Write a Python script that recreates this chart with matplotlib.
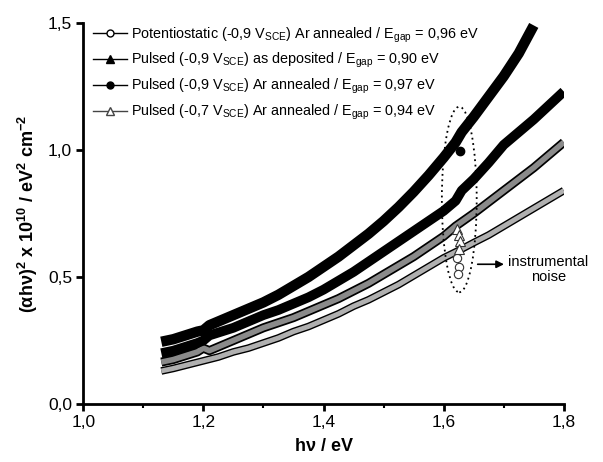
import numpy as np
import matplotlib
matplotlib.use('Agg')
import matplotlib.pyplot as plt
from matplotlib.patches import Ellipse
from matplotlib.lines import Line2D

plt.rcParams['font.family'] = ['Liberation Sans', 'DejaVu Sans']
plt.rcParams['mathtext.fontset'] = 'custom'
plt.rcParams['mathtext.rm'] = 'Liberation Sans'
plt.rcParams['mathtext.bf'] = 'Liberation Sans:bold'

# dados (hv em eV, (alpha hv)^2 em 1e10 eV^2 cm^-2)
x_pa = [1.13, 1.15, 1.17, 1.19, 1.20, 1.21, 1.23, 1.25, 1.275, 1.30, 1.325, 1.35, 1.375, 1.40, 1.425,
        1.45, 1.475, 1.50, 1.525, 1.55, 1.575, 1.60, 1.62, 1.63, 1.65, 1.675, 1.70, 1.725, 1.75]
y_pa = [0.245, 0.255, 0.27, 0.285, 0.29, 0.31, 0.33, 0.35, 0.375, 0.40, 0.43, 0.465, 0.50, 0.54, 0.58,
        0.625, 0.67, 0.72, 0.775, 0.835, 0.90, 0.97, 1.03, 1.07, 1.13, 1.21, 1.29, 1.38, 1.49]

x_pd = [1.13, 1.15, 1.17, 1.19, 1.20, 1.21, 1.23, 1.25, 1.275, 1.30, 1.325, 1.35, 1.375, 1.40, 1.425,
        1.45, 1.475, 1.50, 1.525, 1.55, 1.575, 1.60, 1.62, 1.63, 1.65, 1.675, 1.70, 1.725, 1.75, 1.775, 1.80]
y_pd = [0.20, 0.21, 0.225, 0.24, 0.25, 0.27, 0.285, 0.30, 0.325, 0.35, 0.37, 0.395, 0.42, 0.45, 0.485,
        0.52, 0.56, 0.60, 0.64, 0.68, 0.72, 0.76, 0.80, 0.84, 0.885, 0.95, 1.02, 1.07, 1.12, 1.175, 1.23]

x_p7 = [1.13, 1.15, 1.17, 1.19, 1.20, 1.21, 1.23, 1.25, 1.275, 1.30, 1.325, 1.35, 1.375, 1.40, 1.425,
        1.45, 1.475, 1.50, 1.525, 1.55, 1.575, 1.60, 1.62, 1.65, 1.675, 1.70, 1.725, 1.75, 1.775, 1.80]
y_p7 = [0.165, 0.175, 0.19, 0.205, 0.22, 0.21, 0.23, 0.25, 0.275, 0.30, 0.32, 0.34, 0.365, 0.39, 0.415,
        0.445, 0.475, 0.51, 0.545, 0.58, 0.62, 0.66, 0.70, 0.75, 0.795, 0.84, 0.885, 0.93, 0.98, 1.03]

x_pot = [1.13, 1.15, 1.175, 1.20, 1.225, 1.25, 1.275, 1.30, 1.325, 1.35, 1.375, 1.40, 1.425, 1.45,
         1.475, 1.50, 1.525, 1.55, 1.575, 1.60, 1.63, 1.65, 1.675, 1.70, 1.725, 1.75, 1.775, 1.80]
y_pot = [0.13, 0.14, 0.155, 0.17, 0.185, 0.205, 0.22, 0.24, 0.26, 0.285, 0.305, 0.33, 0.355, 0.385,
         0.41, 0.44, 0.47, 0.505, 0.54, 0.575, 0.61, 0.635, 0.665, 0.70, 0.735, 0.77, 0.805, 0.84]

# pontos de ruido instrumental
noise_pot_x = [1.622, 1.625, 1.624]
noise_pot_y = [0.575, 0.54, 0.51]
noise_p7_x = [1.622, 1.625, 1.628, 1.625]
noise_p7_y = [0.69, 0.665, 0.64, 0.61]
noise_pa_x = [1.627]
noise_pa_y = [0.996]

labels = [r'Potentiostatic (-0,9 V$_\mathrm{SCE}$) Ar annealed / E$_\mathrm{gap}$ = 0,96 eV',
          r'Pulsed (-0,9 V$_\mathrm{SCE}$) as deposited / E$_\mathrm{gap}$ = 0,90 eV',
          r'Pulsed (-0,9 V$_\mathrm{SCE}$) Ar annealed / E$_\mathrm{gap}$ = 0,97 eV',
          r'Pulsed (-0,7 V$_\mathrm{SCE}$) Ar annealed / E$_\mathrm{gap}$ = 0,94 eV']

xticks = [1.0, 1.2, 1.4, 1.6, 1.8]
xticklabels = ['1,0', '1,2', '1,4', '1,6', '1,8']
yticks = [0.0, 0.5, 1.0, 1.5]
yticklabels = ['0,0', '0,5', '1,0', '1,5']

fig = plt.figure(figsize=(6.03, 4.62), dpi=100)
ax = fig.add_axes([0.138, 0.1255, 0.797, 0.825])

# curvas (faixas grossas como na figura original)
kw = dict(solid_capstyle='butt', solid_joinstyle='round')
ax.plot(x_pot, y_pot, color='black', lw=5.5, zorder=2, **kw)
ax.plot(x_pot, y_pot, color='#b0b0b0', lw=3.5, zorder=2, **kw)
ax.plot(x_p7, y_p7, color='black', lw=6.5, zorder=3, **kw)
ax.plot(x_p7, y_p7, color='#8a8a8a', lw=4.0, zorder=3, **kw)
ax.plot(x_pd, y_pd, color='black', lw=7, zorder=4, **kw)
ax.plot(x_pa, y_pa, color='black', lw=7.5, zorder=5, **kw)

ax.plot(noise_pot_x, noise_pot_y, 'o', ms=6, mfc='white', mec='#333333', mew=0.8, zorder=6)
ax.plot(noise_p7_x, noise_p7_y, '^', ms=7, mfc='white', mec='#333333', mew=0.8, zorder=6)
ax.plot(noise_pa_x, noise_pa_y, 'o', ms=6, color='black', zorder=6)

ell = Ellipse((1.626, 0.805), 0.058, 0.73, fill=False, ls=(0, (1, 2)), lw=1.3, color='black', zorder=7)
ax.add_patch(ell)

ax.annotate('', xy=(1.705, 0.55), xytext=(1.652, 0.55),
            arrowprops=dict(arrowstyle='-|>', color='black', lw=1.2, mutation_scale=11))
ax.text(1.774, 0.53, 'instrumental\nnoise', ha='center', va='center', fontsize=10.5,
        linespacing=1.1)

# legenda
handles = [Line2D([], [], color='black', lw=1, marker='o', ms=5, mfc='white', mec='black'),
           Line2D([], [], color='black', lw=1, marker='^', ms=6, mfc='black', mec='black'),
           Line2D([], [], color='black', lw=1, marker='o', ms=5, mfc='black', mec='black'),
           Line2D([], [], color='#444444', lw=1, marker='^', ms=6, mfc='white', mec='#444444')]
leg = ax.legend(handles, labels, loc='upper left', bbox_to_anchor=(0.0, 1.02), frameon=False,
                fontsize=10.4, handlelength=2.3, handletextpad=0.3, labelspacing=0.45,
                borderaxespad=0.3)

ax.set_xlim(1.0, 1.8)
ax.set_ylim(0.0, 1.5)
ax.set_xticks(xticks)
ax.set_xticklabels(xticklabels)
ax.set_xticks([1.1, 1.3, 1.5, 1.7], minor=True)
ax.set_yticks(yticks)
ax.set_yticklabels(yticklabels)

for s in ['top', 'right']:
    ax.spines[s].set_visible(False)
for s in ['left', 'bottom']:
    ax.spines[s].set_linewidth(2)
ax.tick_params(which='major', direction='out', length=5, width=2, labelsize=12.5, pad=3)
ax.tick_params(which='minor', direction='out', length=3, width=1.5)

ax.set_xlabel('hν / eV', fontsize=13, fontweight='bold', labelpad=6)
ax.set_ylabel(r'(αhν)$^\mathbf{2}$ x 10$^\mathbf{10}$ / eV$^\mathbf{2}$ cm$^\mathbf{-2}$',
              fontsize=13, fontweight='bold', labelpad=6)

fig.savefig('out.png', dpi=100)
